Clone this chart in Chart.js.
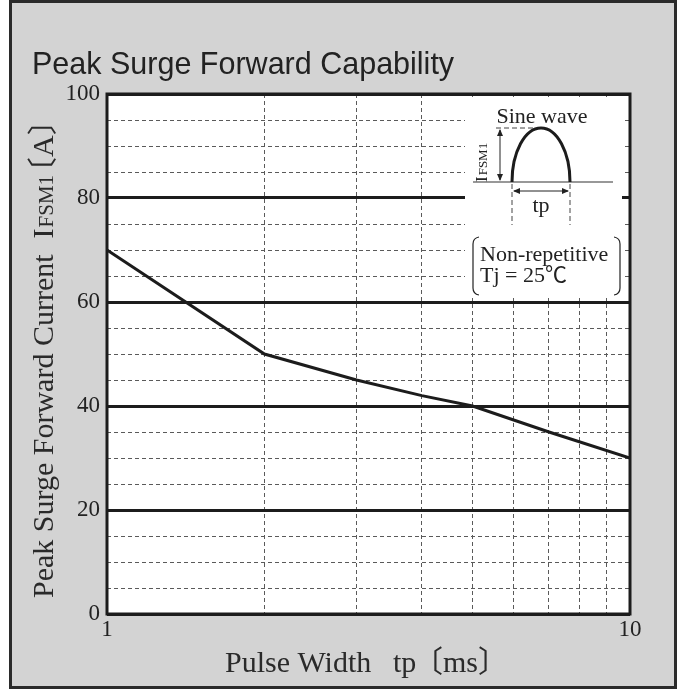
<!DOCTYPE html>
<html lang="en">
<head>
  <meta charset="UTF-8">
  <title>Peak Surge Forward Capability</title>
  <script src="https://cdn.jsdelivr.net/npm/chart.js@4"></script>
  <style>
    html, body { margin: 0; padding: 0; background: #fff; }
    canvas { display: block; }
  </style>
</head>
<body>
  <canvas id="surgeChart" width="682" height="691"></canvas>
  <script>
    // curve
    const pulseWidth = [1, 2, 3, 4, 5, 7, 10];          // tp [ms]
    const surgeCurrent = [70, 50, 45, 42, 40, 35, 30];  // IFSM1 [A]
    const yLabelTicks = [0, 20, 40, 60, 80, 100];
    const xGridTicks = [1, 2, 3, 4, 5, 6, 7, 8, 9, 10];
    const xLabelTicks = [1, 10];

    const SERIF = '"Liberation Serif", "Times New Roman", "Noto Sans CJK JP", serif';
    const SANS = '"Liberation Sans", Arial, sans-serif';
    const INK = '#1c1c1c';
    const GRID = '#5a5a5a';

    const isMajor = c => c.tick && c.tick.value % 20 === 0;

    // draw text pieces one after another on one baseline
    function drawPieces(ctx, pieces, x, y) {
      let cx = x;
      pieces.forEach(p => {
        ctx.font = p.font;
        ctx.fillText(p.text, cx, y);
        cx += ctx.measureText(p.text).width + (p.gap || 0);
      });
    }

    function line(ctx, x1, y1, x2, y2) {
      ctx.beginPath();
      ctx.moveTo(x1, y1);
      ctx.lineTo(x2, y2);
      ctx.stroke();
    }

    function arrowHead(ctx, x, y, dx, dy) {
      // small filled head pointing along (dx, dy)
      const len = 7, half = 3;
      ctx.beginPath();
      ctx.moveTo(x, y);
      ctx.lineTo(x - dx * len - dy * half, y - dy * len + dx * half);
      ctx.lineTo(x - dx * len + dy * half, y - dy * len - dx * half);
      ctx.closePath();
      ctx.fill();
    }

    // gray card, white plot area, title
    const backdrop = {
      id: 'backdrop',
      beforeDraw(chart) {
        const ctx = chart.ctx, a = chart.chartArea;
        ctx.save();
        ctx.fillStyle = '#fff';
        ctx.fillRect(0, 0, chart.width, chart.height);
        ctx.fillStyle = '#d3d3d3';
        ctx.fillRect(10, 1, 666, 687);
        ctx.strokeStyle = '#2a2a2a';
        ctx.lineWidth = 3;
        ctx.strokeRect(10.5, 1.5, 665, 686);
        ctx.fillStyle = '#fff';
        ctx.fillRect(a.left, a.top, a.right - a.left, a.bottom - a.top);

        ctx.fillStyle = '#222';
        ctx.font = '30.5px ' + SANS;
        ctx.textBaseline = 'alphabetic';
        ctx.textAlign = 'left';
        ctx.fillText('Peak Surge Forward Capability', 32, 74);
        ctx.restore();
      }
    };

    // sine wave sketch and test conditions in the top right corner
    const inset = {
      id: 'inset',
      beforeDatasetsDraw(chart) {
        const ctx = chart.ctx;
        ctx.save();
        ctx.fillStyle = '#fff';
        ctx.fillRect(465, 97, 157, 201);

        ctx.fillStyle = '#222';
        ctx.textBaseline = 'alphabetic';
        ctx.font = '22px ' + SERIF;
        ctx.textAlign = 'center';
        ctx.fillText('Sine wave', 542, 123);
        ctx.fillText('tp', 541, 212);

        ctx.strokeStyle = '#333';
        ctx.lineWidth = 1.2;
        line(ctx, 473, 182, 613, 182);

        ctx.strokeStyle = INK;
        ctx.lineWidth = 3;
        ctx.beginPath();
        ctx.ellipse(541, 182, 29, 54, 0, Math.PI, 2 * Math.PI);
        ctx.stroke();

        ctx.strokeStyle = '#444';
        ctx.lineWidth = 1;
        ctx.setLineDash([5, 3]);
        line(ctx, 496, 128, 536, 128);
        line(ctx, 512, 184, 512, 225);
        line(ctx, 570, 184, 570, 225);
        ctx.setLineDash([]);

        ctx.strokeStyle = '#222';
        ctx.fillStyle = '#222';
        line(ctx, 500, 130, 500, 180);
        arrowHead(ctx, 500, 129, 0, -1);
        arrowHead(ctx, 500, 181, 0, 1);
        line(ctx, 514, 191, 568, 191);
        arrowHead(ctx, 513, 191, -1, 0);
        arrowHead(ctx, 569, 191, 1, 0);

        ctx.save();
        ctx.translate(487, 182);
        ctx.rotate(-Math.PI / 2);
        ctx.textAlign = 'left';
        drawPieces(ctx, [
          { text: 'I', font: '17px ' + SERIF, gap: 1 },
          { text: 'FSM1', font: '13px ' + SERIF }
        ], 0, 0);
        ctx.restore();

        // bracket around the conditions
        ctx.lineWidth = 1.2;
        ctx.beginPath();
        ctx.moveTo(479, 237);
        ctx.quadraticCurveTo(473, 238, 473, 244);
        ctx.lineTo(473, 288);
        ctx.quadraticCurveTo(473, 294, 479, 295);
        ctx.moveTo(614, 237);
        ctx.quadraticCurveTo(620, 238, 620, 244);
        ctx.lineTo(620, 288);
        ctx.quadraticCurveTo(620, 294, 614, 295);
        ctx.stroke();

        ctx.textAlign = 'left';
        ctx.font = '22px ' + SERIF;
        ctx.fillText('Non-repetitive', 480, 261);
        ctx.fillText('Tj = 25\u2103', 480, 282);
        ctx.restore();
      }
    };

    // plot frame and axis titles
    const frame = {
      id: 'frame',
      afterDraw(chart) {
        const ctx = chart.ctx, a = chart.chartArea;
        ctx.save();
        ctx.strokeStyle = INK;
        ctx.lineWidth = 3;
        ctx.strokeRect(a.left, a.top, a.right - a.left, a.bottom - a.top);

        ctx.fillStyle = '#2a2a2a';
        ctx.textBaseline = 'alphabetic';
        ctx.textAlign = 'left';

        // x title
        ctx.font = '30px ' + SERIF;
        ctx.fillText('Pulse Width', 225, 672);
        ctx.fillText('tp', 393, 672);
        ctx.fillText('\u3014ms\u3015', 413, 672);

        // y title, reading upwards
        ctx.translate(53, 598);
        ctx.rotate(-Math.PI / 2);
        drawPieces(ctx, [
          { text: 'Peak Surge Forward Current', font: '30px ' + SERIF, gap: 16 },
          { text: 'I', font: '30px ' + SERIF, gap: 1 },
          { text: 'FSM1', font: '21px ' + SERIF, gap: -12 },
          { text: '\u3014A\u3015', font: '30px ' + SERIF }
        ], 0, 0);
        ctx.restore();
      }
    };

    const tickFont = { family: SERIF, size: 23 };

    new Chart(document.getElementById('surgeChart'), {
      type: 'line',
      data: {
        datasets: [{
          data: pulseWidth.map((x, i) => ({ x: x, y: surgeCurrent[i] })),
          borderColor: INK,
          borderWidth: 3,
          pointRadius: 0,
          tension: 0,
          fill: false
        }]
      },
      options: {
        responsive: false,
        animation: false,
        layout: { padding: { top: 94, right: 52, left: 0, bottom: 0 } },
        plugins: { legend: { display: false }, tooltip: { enabled: false } },
        scales: {
          x: {
            type: 'logarithmic',
            min: 1,
            max: 10,
            border: { display: false, dash: [4, 3] },
            grid: {
              drawTicks: false,
              color: GRID,
              lineWidth: c => (c.tick && xLabelTicks.includes(c.tick.value)) ? 0 : 1
            },
            ticks: {
              autoSkip: false,
              maxRotation: 0,
              padding: 2,
              color: '#222',
              font: tickFont,
              callback: v => xLabelTicks.includes(v) ? String(v) : ''
            },
            afterBuildTicks: s => { s.ticks = xGridTicks.map(v => ({ value: v })); },
            afterFit: s => { s.height = 77; s.paddingLeft = 0; s.paddingRight = 0; }
          },
          y: {
            min: 0,
            max: 100,
            border: { display: false, dash: c => isMajor(c) ? [] : [4, 3] },
            grid: {
              drawTicks: false,
              color: c => isMajor(c) ? INK : GRID,
              lineWidth: c => isMajor(c) ? 3 : 1
            },
            ticks: {
              stepSize: 5,
              autoSkip: false,
              padding: 7,
              color: '#222',
              font: tickFont,
              callback: v => yLabelTicks.includes(v) ? String(v) : ''
            },
            afterFit: s => { s.width = 107; s.paddingTop = 0; s.paddingBottom = 0; }
          }
        }
      },
      plugins: [backdrop, inset, frame]
    });
  </script>
</body>
</html>
